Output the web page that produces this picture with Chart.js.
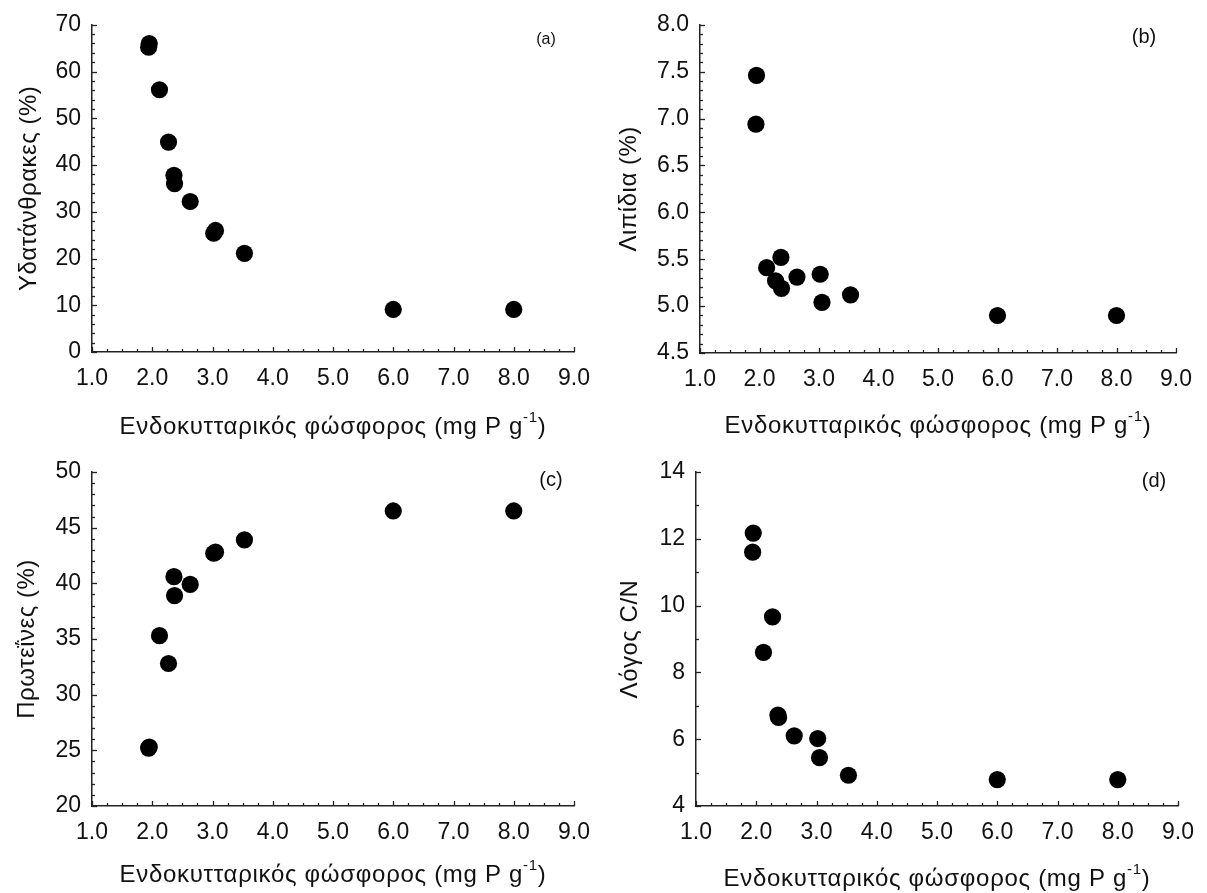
<!DOCTYPE html>
<html>
<head>
<meta charset="utf-8">
<script src="https://cdn.jsdelivr.net/npm/chart.js@4.4.1/dist/chart.umd.min.js"></script>
<style>
  body { margin: 0; background: #fff; }
  .panel { position: absolute; }
</style>
</head>
<body>
<div class="panel" style="left:0;top:0"><canvas id="chartA" width="603" height="446"></canvas></div>
<div class="panel" style="left:603px;top:0"><canvas id="chartB" width="604" height="446"></canvas></div>
<div class="panel" style="left:0;top:446px"><canvas id="chartC" width="603" height="447"></canvas></div>
<div class="panel" style="left:603px;top:446px"><canvas id="chartD" width="604" height="447"></canvas></div>
<script>
// intracellular phosphorus (mg P g-1), shared by all four panels
const phosphorus = [1.94, 1.95, 2.12, 2.27, 2.36, 2.37, 2.63, 3.02, 3.05, 3.53, 6.0, 8.0];

const carbohydrates = [65.2, 66.0, 56.1, 44.9, 37.8, 36.0, 32.2, 25.4, 26.0, 21.1, 9.1, 9.1];
const lipids = [6.94, 7.46, 5.41, 5.27, 5.52, 5.19, 5.31, 5.34, 5.04, 5.12, 4.90, 4.90];
const proteins = [25.2, 25.3, 35.3, 32.8, 40.6, 38.9, 39.9, 42.7, 42.8, 43.9, 46.5, 46.5];
const cnRatio = [11.6, 12.17, 8.6, 9.66, 6.72, 6.65, 6.1, 6.02, 5.45, 4.92, 4.79, 4.79];

const xTicks = [1, 2, 3, 4, 5, 6, 7, 8, 9];
const yTicksA = [0, 10, 20, 30, 40, 50, 60, 70];
const yTicksB = [4.5, 5.0, 5.5, 6.0, 6.5, 7.0, 7.5, 8.0];
const yTicksC = [20, 25, 30, 35, 40, 45, 50];
const yTicksD = [4, 6, 8, 10, 12, 14];

const xTitle = 'Ενδοκυτταρικός φώσφορος (mg P g';
const xTitleSup = '-1';

const FONT = '"Liberation Sans", Arial, sans-serif';
const INK = '#111';

// draws inward major/minor ticks, the panel letter and the axis titles
const panelDecor = {
  id: 'panelDecor',
  afterDraw(chart, args, o) {
    const ctx = chart.ctx;
    const area = chart.chartArea;
    const sx = chart.scales.x, sy = chart.scales.y;
    ctx.save();
    ctx.strokeStyle = '#222';
    ctx.lineWidth = 1.3;

    let n = Math.round((sx.max - sx.min) / o.xMinor);
    let every = Math.round(o.xMajor / o.xMinor);
    for (let i = 0; i <= n; i++) {
      const px = Math.round(sx.getPixelForValue(sx.min + i * o.xMinor)) + 0.5;
      const len = i % every === 0 ? 5 : 3;
      ctx.beginPath();
      ctx.moveTo(px, area.bottom);
      ctx.lineTo(px, area.bottom - len);
      ctx.stroke();
    }
    n = Math.round((sy.max - sy.min) / o.yMinor);
    every = Math.round(o.yMajor / o.yMinor);
    for (let i = 0; i <= n; i++) {
      const py = Math.round(sy.getPixelForValue(sy.min + i * o.yMinor)) + 0.5;
      const len = i % every === 0 ? 5 : 3;
      ctx.beginPath();
      ctx.moveTo(area.left, py);
      ctx.lineTo(area.left + len, py);
      ctx.stroke();
    }

    ctx.fillStyle = INK;
    ctx.textBaseline = 'middle';
    ctx.textAlign = 'center';
    ctx.font = o.letterSize + 'px ' + FONT;
    ctx.fillText(o.letter, area.right + o.letterDx, area.top + o.letterDy);

    // y axis title
    ctx.save();
    ctx.letterSpacing = '0.5px';
    ctx.font = '24px ' + FONT;
    ctx.translate(o.yTitleX, (area.top + area.bottom) / 2);
    ctx.rotate(-Math.PI / 2);
    ctx.fillText(o.yTitle, 0, 0);
    ctx.restore();

    // x axis title with superscript
    ctx.letterSpacing = '0.7px';
    ctx.font = '24px ' + FONT;
    const w1 = ctx.measureText(xTitle).width;
    ctx.font = '15px ' + FONT;
    const w2 = ctx.measureText(xTitleSup).width;
    ctx.font = '24px ' + FONT;
    const w3 = ctx.measureText(')').width;
    let tx = (area.left + area.right) / 2 - (w1 + w2 + w3) / 2;
    const ty = area.bottom + o.titleDy;
    ctx.textAlign = 'left';
    ctx.fillText(xTitle, tx, ty);
    tx += w1;
    ctx.font = '15px ' + FONT;
    ctx.fillText(xTitleSup, tx, ty - 9);
    tx += w2;
    ctx.font = '24px ' + FONT;
    ctx.fillText(')', tx, ty);
    ctx.restore();
  }
};

function makePanel(id, values, yTicks, decimals, box, decor) {
  const canvas = document.getElementById(id);
  const pts = phosphorus.map((p, i) => ({ x: p, y: values[i] }));
  return new Chart(canvas.getContext('2d'), {
    type: 'scatter',
    data: {
      datasets: [{
        data: pts,
        backgroundColor: '#000',
        borderWidth: 0,
        pointRadius: 8.6,
        pointHoverRadius: 8.6
      }]
    },
    options: {
      responsive: false,
      animation: false,
      events: [],
      layout: {
        padding: { left: 0, top: box.top, right: canvas.width - box.right, bottom: 0 }
      },
      plugins: {
        legend: { display: false },
        tooltip: { enabled: false },
        panelDecor: decor
      },
      scales: {
        x: {
          type: 'linear',
          min: xTicks[0],
          max: xTicks[xTicks.length - 1],
          afterBuildTicks: s => { s.ticks = xTicks.map(v => ({ value: v })); },
          afterFit: s => { s.height = canvas.height - box.bottom; },
          grid: { display: false, drawTicks: false },
          border: { display: true, color: '#222', width: 1.5 },
          ticks: {
            padding: 13,
            color: INK,
            font: { family: FONT, size: 23 },
            maxRotation: 0,
            callback: v => Number(v).toFixed(1)
          }
        },
        y: {
          type: 'linear',
          min: yTicks[0],
          max: yTicks[yTicks.length - 1],
          afterBuildTicks: s => { s.ticks = yTicks.map(v => ({ value: v })); },
          afterFit: s => { s.width = box.left; },
          grid: { display: false, drawTicks: false },
          border: { display: true, color: '#222', width: 1.5 },
          ticks: {
            padding: 11,
            color: INK,
            font: { family: FONT, size: 23 },
            callback: v => Number(v).toFixed(decimals)
          }
        }
      }
    },
    plugins: [panelDecor]
  });
}

makePanel('chartA', carbohydrates, yTicksA, 0,
  { left: 92, right: 581, top: 20, bottom: 352 },
  { xMajor: 1, xMinor: 0.25, yMajor: 10, yMinor: 2, letter: '(a)', letterSize: 16, letterDx: -28, letterDy: 15,
    titleDy: 75, yTitle: 'Υδατάνθρακες (%)', yTitleX: 29 });

makePanel('chartB', lipids, yTicksB, 1,
  { left: 97, right: 573, top: 19, bottom: 353 },
  { xMajor: 1, xMinor: 0.25, yMajor: 0.5, yMinor: 0.1, letter: '(b)', letterSize: 20, letterDx: -32, letterDy: 13,
    titleDy: 73, yTitle: 'Λιπίδια (%)', yTitleX: 26 });

makePanel('chartC', proteins, yTicksC, 0,
  { left: 92, right: 583, top: 26, bottom: 360 },
  { xMajor: 1, xMinor: 0.25, yMajor: 5, yMinor: 1, letter: '(c)', letterSize: 20, letterDx: -23, letterDy: 8,
    titleDy: 69, yTitle: 'Πρωτεΐνες (%)', yTitleX: 27 });

makePanel('chartD', cnRatio, yTicksD, 0,
  { left: 93, right: 576, top: 26, bottom: 360 },
  { xMajor: 1, xMinor: 0.25, yMajor: 2, yMinor: 1, letter: '(d)', letterSize: 20, letterDx: -24, letterDy: 9,
    titleDy: 73, yTitle: 'Λόγος C/N', yTitleX: 27 });
</script>
</body>
</html>
